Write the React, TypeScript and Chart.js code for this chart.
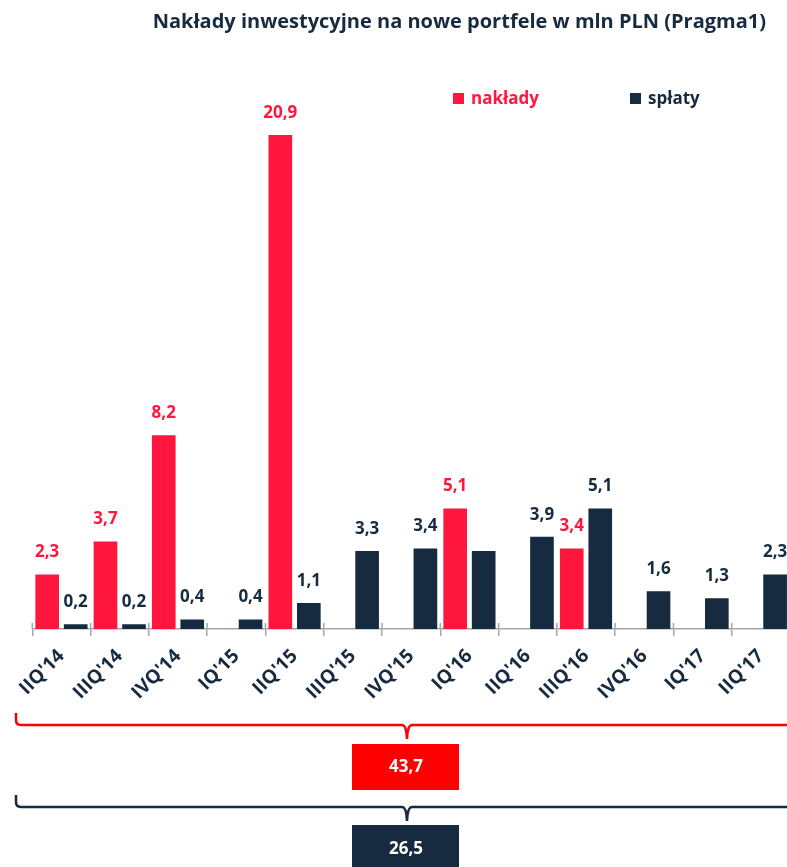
import React, { useEffect, useRef } from "react";
import { Chart, registerables } from "chart.js";

Chart.register(...registerables);

const categories = [
  "IIQ'14", "IIIQ'14", "IVQ'14", "IQ'15", "IIQ'15", "IIIQ'15", "IVQ'15",
  "IQ'16", "IIQ'16", "IIIQ'16", "IVQ'16", "IQ'17", "IIQ'17",
];
const nakladyValues: (number | null)[] = [2.3, 3.7, 8.2, null, 20.9, null, null, 5.1, null, 3.4, null, null, null];
const splatyValues: (number | null)[] = [0.2, 0.2, 0.4, 0.4, 1.1, 3.3, 3.4, 3.3, 3.9, 5.1, 1.6, 1.3, 2.3];
const splatyUnlabeled = [7];
const nakladyTotal = 43.7;
const splatyTotal = 26.5;
const seriesNames = ["nakłady", "spłaty"];
const titleText = "Nakłady inwestycyjne na nowe portfele w mln PLN (Pragma1)";

const RED = "#FF163C";
const NAVY = "#172B40";
const BOX_RED = "#FF0000";
const FONT = "'Open Sans', 'DejaVu Sans', sans-serif";

const fmt = (v: number) => v.toFixed(1).replace(".", ",");

const overlayPlugin = {
  id: "overlay",
  afterDatasetsDraw(chart: any) {
    const ctx = chart.ctx;
    ctx.save();
    // data labels
    ctx.font = `bold 17px ${FONT}`;
    ctx.textAlign = "center";
    ctx.textBaseline = "middle";
    chart.data.datasets.forEach((ds: any, di: number) => {
      const meta = chart.getDatasetMeta(di);
      meta.data.forEach((bar: any, i: number) => {
        const v = ds.data[i];
        if (v === null || v === undefined) return;
        if (di === 1 && splatyUnlabeled.includes(i)) return;
        ctx.fillStyle = di === 0 ? RED : NAVY;
        ctx.fillText(fmt(v), bar.x, bar.y - 22);
      });
    });

    // upper part of axis tick marks
    const xs = chart.scales.x;
    const n = categories.length;
    const w = (xs.right - xs.left) / n;
    ctx.strokeStyle = "#A6A6A6";
    ctx.lineWidth = 1.5;
    for (let i = 0; i <= n; i++) {
      const px = xs.getPixelForValue(0) - w / 2 + i * w;
      ctx.beginPath();
      ctx.moveTo(px, xs.top - 6);
      ctx.lineTo(px, xs.top);
      ctx.stroke();
    }
    ctx.restore();
  },
  afterDraw(chart: any) {
    const ctx = chart.ctx;
    ctx.save();
    // title
    ctx.font = `bold 20px ${FONT}`;
    ctx.fillStyle = NAVY;
    ctx.textAlign = "right";
    ctx.textBaseline = "middle";
    ctx.fillText(titleText, 766, 22);

    // legend
    ctx.font = `bold 17px ${FONT}`;
    const legend = [
      { x: 453, color: RED, name: seriesNames[0] },
      { x: 630, color: NAVY, name: seriesNames[1] },
    ];
    ctx.textAlign = "left";
    legend.forEach((l) => {
      ctx.fillStyle = l.color;
      ctx.fillRect(l.x, 93, 11, 11);
      ctx.fillText(l.name, l.x + 18, 99);
    });

    // braces
    const drawBrace = (yTop: number, yLine: number, yTip: number, color: string) => {
      const x0 = 16;
      const cx = 407;
      const x1 = 2 * cx - x0;
      ctx.strokeStyle = color;
      ctx.lineWidth = 2.5;
      ctx.beginPath();
      ctx.moveTo(x0, yTop);
      ctx.lineTo(x0, yLine - 5);
      ctx.quadraticCurveTo(x0, yLine, x0 + 5, yLine);
      ctx.lineTo(cx - 5, yLine);
      ctx.quadraticCurveTo(cx - 0.5, yLine, cx, yTip);
      ctx.quadraticCurveTo(cx + 0.5, yLine, cx + 5, yLine);
      ctx.lineTo(x1 - 5, yLine);
      ctx.quadraticCurveTo(x1, yLine, x1, yLine - 5);
      ctx.lineTo(x1, yTop);
      ctx.stroke();
    };
    drawBrace(713, 725, 739, BOX_RED);
    drawBrace(795, 807, 821, NAVY);

    // total boxes
    ctx.fillStyle = BOX_RED;
    ctx.fillRect(352, 744, 107, 46);
    ctx.fillStyle = NAVY;
    ctx.fillRect(352, 825, 107, 50);
    ctx.fillStyle = "#FFFFFF";
    ctx.textAlign = "center";
    ctx.font = `bold 17px ${FONT}`;
    ctx.fillText(fmt(nakladyTotal), 406, 767);
    ctx.fillText(fmt(splatyTotal), 406, 849);
    ctx.restore();
  },
};

export default function App() {
  const canvasRef = useRef<HTMLCanvasElement | null>(null);

  useEffect(() => {
    if (!canvasRef.current) return;
    const chart = new Chart(canvasRef.current, {
      type: "bar",
      data: {
        labels: categories,
        datasets: [
          {
            label: seriesNames[0],
            data: nakladyValues,
            backgroundColor: RED,
            categoryPercentage: 0.978,
            barPercentage: 0.83,
          },
          {
            label: seriesNames[1],
            data: splatyValues,
            backgroundColor: NAVY,
            categoryPercentage: 0.978,
            barPercentage: 0.83,
          },
        ],
      },
      options: {
        responsive: false,
        animation: false,
        devicePixelRatio: 1,
        layout: {
          autoPadding: false,
          padding: { left: 32.3, right: 10, top: 61.6, bottom: 158 },
        },
        plugins: {
          legend: { display: false },
          title: { display: false },
          tooltip: { enabled: false },
        },
        scales: {
          x: {
            offset: true,
            afterFit: (scale: any) => {
              scale.height = 80;
            },
            border: { display: true, color: "#A6A6A6", width: 1.5 },
            grid: {
              display: true,
              drawOnChartArea: false,
              drawTicks: true,
              tickLength: 7,
              color: "#A6A6A6",
              lineWidth: 1.5,
              offset: true,
            },
            ticks: {
              maxRotation: 45,
              minRotation: 45,
              autoSkip: false,
              padding: 9,
              color: NAVY,
              font: { family: FONT, size: 19, weight: "bold" },
            },
          },
          y: {
            display: false,
            min: 0,
            max: 24,
          },
        },
      },
      plugins: [overlayPlugin],
    });
    return () => chart.destroy();
  }, []);

  return (
    <div
      style={{
        position: "fixed",
        left: 0,
        top: 0,
        width: 787,
        height: 867,
        overflow: "hidden",
        background: "#fff",
      }}
    >
      <canvas ref={canvasRef} width={800} height={867} style={{ display: "block" }} />
    </div>
  );
}
